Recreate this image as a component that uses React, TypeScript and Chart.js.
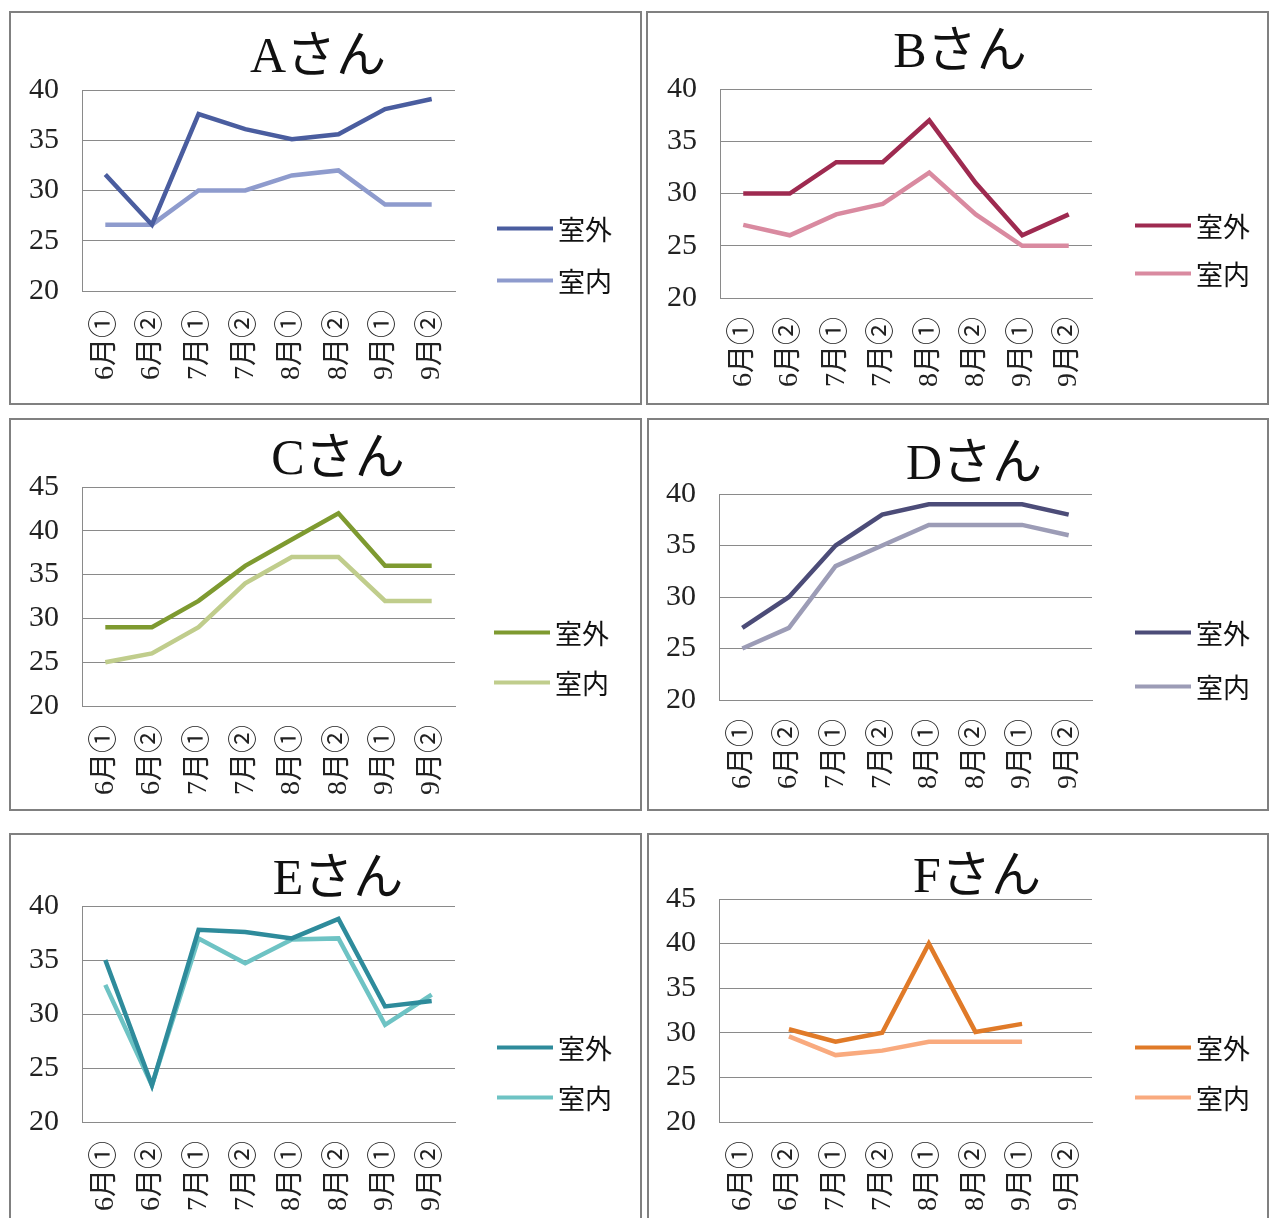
import React, { useEffect, useRef } from "react";
import { Chart, registerables } from "chart.js";

Chart.register(...registerables);

// ---- data ----
const categories = ["6月①", "6月②", "7月①", "7月②", "8月①", "8月②", "9月①", "9月②"];
const seriesNames = ["室外", "室内"];
const titles = ["Aさん", "Bさん", "Cさん", "Dさん", "Eさん", "Fさん"];

const aOutdoor = [31.6, 26.6, 37.6, 36.1, 35.1, 35.6, 38.1, 39.1];
const aIndoor = [26.6, 26.6, 30.0, 30.0, 31.5, 32.0, 28.6, 28.6];
const bOutdoor = [30, 30, 33, 33, 37, 31, 26, 28];
const bIndoor = [27, 26, 28, 29, 32, 28, 25, 25];
const cOutdoor = [29, 29, 32, 36, 39, 42, 36, 36];
const cIndoor = [25, 26, 29, 34, 37, 37, 32, 32];
const dOutdoor = [27, 30, 35, 38, 39, 39, 39, 38];
const dIndoor = [25, 27, 33, 35, 37, 37, 37, 36];
const eOutdoor = [35, 23.4, 37.8, 37.6, 37, 38.8, 30.7, 31.2];
const eIndoor = [32.7, 23.4, 37, 34.7, 36.9, 37, 29, 31.8];
const fOutdoor = [null, 30.4, 29, 30, 40, 30.1, 31, null];
const fIndoor = [null, 29.6, 27.5, 28, 29, 29, 29, null];

const yMins = [20, 20, 20, 20, 20, 20];
const yMaxs = [40, 40, 45, 40, 40, 45];
const yStep = 5;

// ---- styling / layout (page coordinates) ----
const panels = [
  { out: aOutdoor, inn: aIndoor, colors: ["#4a5d9f", "#8e9bcd"], box: [9, 11, 633, 394], plot: [82, 455, 90, 291], title: [318, 55], legend: [497, 228, 280] },
  { out: bOutdoor, inn: bIndoor, colors: ["#9e2a50", "#d98aa0"], box: [646, 11, 623, 394], plot: [720, 1092, 89, 298], title: [960, 50], legend: [1135, 225, 273] },
  { out: cOutdoor, inn: cIndoor, colors: ["#7e9a30", "#c0cd8c"], box: [9, 418, 633, 393], plot: [82, 455, 487, 706], title: [338, 457], legend: [494, 632, 682] },
  { out: dOutdoor, inn: dIndoor, colors: ["#4c4c78", "#9c9cb6"], box: [647, 418, 622, 393], plot: [719, 1092, 494, 700], title: [974, 462], legend: [1135, 632, 686] },
  { out: eOutdoor, inn: eIndoor, colors: ["#2e8b9b", "#6ec3c4"], box: [9, 833, 633, 400], plot: [82, 455, 906, 1122], title: [338, 877], legend: [497, 1047, 1097] },
  { out: fOutdoor, inn: fIndoor, colors: ["#e07a28", "#f9aa7e"], box: [647, 833, 622, 400], plot: [719, 1092, 899, 1122], title: [977, 875], legend: [1135, 1047, 1097] },
];

const BORDER = 2;
const serif = '"Liberation Serif", "Noto Sans CJK JP", serif';
const sansJP = '"Noto Sans CJK JP", "Noto Sans", sans-serif';

export default function App() {
  const canvasRefs = useRef<(HTMLCanvasElement | null)[]>([]);

  useEffect(() => {
    const charts: Chart[] = [];
    panels.forEach((p, i) => {
      const cv = canvasRefs.current[i];
      if (!cv) return;
      const [bx, by, bw, bh] = p.box;
      const [pl, pr, pt, pb] = p.plot;
      const ox = bx + BORDER;
      const oy = by + BORDER;
      const cw = bw - 2 * BORDER;
      const ch = bh - 2 * BORDER;
      const yW = pl - ox;
      const xH = ch - (pb - oy);
      const chart = new Chart(cv, {
        type: "line",
        data: {
          labels: categories,
          datasets: [
            { label: seriesNames[0], data: p.out as any, borderColor: p.colors[0], backgroundColor: p.colors[0], borderWidth: 4.5, pointRadius: 0, tension: 0, spanGaps: false },
            { label: seriesNames[1], data: p.inn as any, borderColor: p.colors[1], backgroundColor: p.colors[1], borderWidth: 4.5, pointRadius: 0, tension: 0, spanGaps: false },
          ],
        },
        options: {
          animation: false,
          responsive: false,
          devicePixelRatio: 1,
          layout: { padding: { top: pt - oy, left: 0, right: cw - (pr - ox), bottom: 0 } },
          plugins: { legend: { display: false }, title: { display: false }, tooltip: { enabled: false } },
          scales: {
            x: {
              type: "category",
              offset: true,
              grid: { display: false, drawTicks: false },
              border: { display: true, color: "#8a8a8a", width: 1 },
              ticks: {
                autoSkip: false,
                minRotation: 90,
                maxRotation: 90,
                padding: 19,
                color: "#222",
                font: { family: serif, size: 28 },
              },
              afterFit: (s: any) => { s.height = xH; },
            },
            y: {
              min: yMins[i],
              max: yMaxs[i],
              grid: { color: "#8a8a8a", lineWidth: 1, drawTicks: false },
              border: { display: true, color: "#8a8a8a", width: 1 },
              ticks: {
                stepSize: yStep,
                padding: 23,
                color: "#222",
                font: { family: serif, size: 30 },
              },
              afterFit: (s: any) => { s.width = yW; },
            },
          },
        },
      });
      charts.push(chart);
    });
    return () => charts.forEach((c) => c.destroy());
  }, []);

  return (
    <div style={{ position: "absolute", left: 0, top: 0, width: 1269, height: 1218, overflow: "hidden", background: "#fff" }}>
      {panels.map((p, i) => {
        const [bx, by, bw, bh] = p.box;
        return (
          <div
            key={"box" + i}
            style={{
              position: "absolute",
              left: bx,
              top: by,
              width: bw,
              height: bh,
              boxSizing: "border-box",
              border: `${BORDER}px solid #808080`,
            }}
          >
            <canvas
              ref={(el) => { canvasRefs.current[i] = el; }}
              width={bw - 2 * BORDER}
              height={bh - 2 * BORDER}
              style={{ display: "block", width: bw - 2 * BORDER, height: bh - 2 * BORDER }}
            />
          </div>
        );
      })}
      {panels.map((p, i) => (
        <div
          key={"title" + i}
          style={{
            position: "absolute",
            left: p.title[0],
            top: p.title[1],
            transform: "translate(-50%, -50%)",
            fontFamily: serif,
            fontSize: 50,
            lineHeight: 1,
            color: "#111",
            whiteSpace: "nowrap",
          }}
        >
          {titles[i]}
        </div>
      ))}
      {panels.map((p, i) =>
        seriesNames.map((name, j) => (
          <div
            key={"leg" + i + "-" + j}
            style={{
              position: "absolute",
              left: p.legend[0],
              top: p.legend[1 + j],
              transform: "translateY(-50%)",
              display: "flex",
              alignItems: "center",
              whiteSpace: "nowrap",
            }}
          >
            <span style={{ display: "inline-block", width: 56, height: 4, background: p.colors[j], marginRight: 5 }} />
            <span style={{ fontFamily: sansJP, fontSize: 27, lineHeight: 1, color: "#111" }}>{name}</span>
          </div>
        ))
      )}
    </div>
  );
}
